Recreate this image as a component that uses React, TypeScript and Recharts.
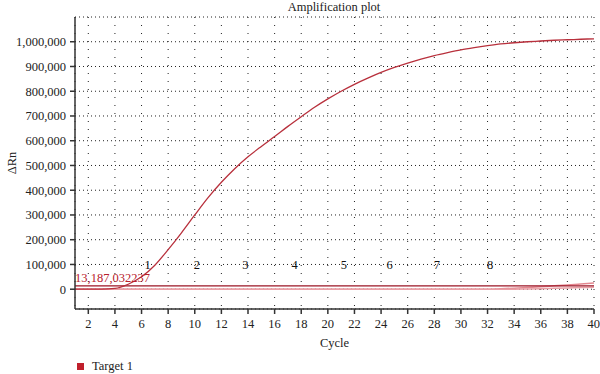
import {
  ComposedChart,
  Line,
  Scatter,
  XAxis,
  YAxis,
  CartesianGrid,
  ReferenceLine,
  LabelList,
  Legend,
} from "recharts";

// cycle numbers 1..40
const cycles = [
  1, 2, 3, 4, 5, 6, 7, 8, 9, 10, 11, 12, 13, 14, 15, 16, 17, 18, 19, 20,
  21, 22, 23, 24, 25, 26, 27, 28, 29, 30, 31, 32, 33, 34, 35, 36, 37, 38, 39, 40,
];

// Target 1, amplified well
const sampleMain = [
  0, 0, 0, 3000, 20000, 50000, 97000, 160000, 228000, 300000,
  370000, 432000, 487000, 535000, 577000, 617000, 658000, 697000, 735000, 769000,
  800000, 828000, 853000, 876000, 896000, 914000, 930000, 944000, 956000, 967000,
  976000, 984000, 991000, 996000, 1000000, 1003000, 1006000, 1008000, 1010000, 1012000,
];

// wells that stay near baseline, late drift
const sampleLateA = [
  0, 0, 0, 0, 0, 0, 0, 0, 0, 0,
  0, 0, 0, 0, 0, 0, 0, 0, 0, 0,
  0, 0, 0, 0, 0, 0, 0, 0, 0, 0,
  0, 0, 2000, 4000, 7000, 10000, 13500, 17000, 21000, 25000,
];
const sampleLateB = [
  0, 0, 0, 0, 0, 0, 0, 0, 0, 0,
  0, 0, 0, 0, 0, 0, 0, 0, 0, 0,
  0, 0, 0, 0, 0, 0, 0, 0, 0, 0,
  0, 0, 0, 0, 1000, 2000, 3500, 5000, 6500, 8000,
];

const threshold = 13187.032237;
const thresholdText = "13,187,032237";

// well markers drawn along the 100,000 line
const markerCycles = [6.45, 10.15, 13.8, 17.5, 21.2, 24.65, 28.2, 32.2];
const markerLabels = ["1", "2", "3", "4", "5", "6", "7", "8"];
const markerLevel = 100000;

const xTicks = [2, 4, 6, 8, 10, 12, 14, 16, 18, 20, 22, 24, 26, 28, 30, 32, 34, 36, 38, 40];
const yTicks = [0, 100000, 200000, 300000, 400000, 500000, 600000, 700000, 800000, 900000, 1000000];

const rows = cycles.map((cycle, i) => ({
  cycle,
  main: sampleMain[i],
  lateA: sampleLateA[i],
  lateB: sampleLateB[i],
}));

const markers = markerCycles.map((cycle, i) => ({
  cycle,
  level: markerLevel,
  label: markerLabels[i],
}));

const FONT = "'Liberation Serif', 'DejaVu Serif', serif";
const FS = 12.5;
const tickStyle = { fontSize: FS, fill: "#222", fontFamily: FONT };
const X_DOMAIN: [number, number] = [1, 40];
const Y_DOMAIN: [number, number] = [-80000, 1100000];

function LegendBox() {
  return (
    <div style={{ display: "flex", alignItems: "center", fontFamily: FONT, fontSize: FS, color: "#222" }}>
      <span style={{ width: 7, height: 7, background: "#c0202c", display: "inline-block", marginRight: 8 }} />
      <span>Target 1</span>
    </div>
  );
}

export default function App() {
  return (
    <div style={{ position: "absolute", left: 0, top: 0, width: 600, height: 374, background: "#fff" }}>
      <div
        style={{
          position: "absolute",
          left: 234,
          top: 0,
          width: 200,
          textAlign: "center",
          fontFamily: FONT,
          fontSize: FS,
          lineHeight: "14px",
          color: "#222",
        }}
      >
        Amplification plot
      </div>
      <ComposedChart
        width={600}
        height={374}
        data={rows}
        margin={{ top: 17, right: 6, left: 0, bottom: 27 }}
        style={{ fontFamily: FONT }}
      >
        <CartesianGrid horizontal={true} vertical={false} stroke="#222" strokeDasharray="1 3" />
        <CartesianGrid horizontal={false} vertical={true} stroke="#222" strokeDasharray="1 7" />
        <XAxis
          dataKey="cycle"
          type="number"
          domain={X_DOMAIN}
          ticks={xTicks}
          allowDataOverflow
          tick={tickStyle}
          tickSize={5}
          tickMargin={5}
          height={38}
          stroke="#333"
          strokeWidth={1.5}
          label={{ value: "Cycle", position: "insideBottom", offset: 0, fontSize: FS, fill: "#222" }}
        />
        <XAxis
          xAxisId="top"
          orientation="top"
          type="number"
          domain={X_DOMAIN}
          tick={false}
          tickLine={false}
          height={0}
          stroke="#555"
          strokeWidth={2}
        />
        <YAxis
          type="number"
          domain={Y_DOMAIN}
          ticks={yTicks}
          allowDataOverflow
          tick={tickStyle}
          tickSize={5}
          tickMargin={4}
          width={75}
          stroke="#333"
          strokeWidth={1.5}
          tickFormatter={(v: number) => v.toLocaleString("en-US")}
          label={{
            value: "ΔRn",
            angle: -90,
            position: "insideLeft",
            offset: 12,
            fontSize: FS,
            fill: "#222",
            style: { textAnchor: "middle" },
          }}
        />
        <YAxis
          yAxisId="right"
          orientation="right"
          type="number"
          domain={Y_DOMAIN}
          tick={false}
          tickLine={false}
          width={0}
          stroke="#333"
          strokeWidth={1.5}
        />
        <Line
          dataKey="lateA"
          type="monotone"
          stroke="#e48890"
          strokeWidth={1.5}
          dot={false}
          isAnimationActive={false}
        />
        <Line
          dataKey="lateB"
          type="monotone"
          stroke="#eaa0a6"
          strokeWidth={1.5}
          dot={false}
          isAnimationActive={false}
        />
        <ReferenceLine
          y={threshold}
          stroke="#9b1424"
          strokeWidth={1.3}
          label={{
            value: thresholdText,
            position: "insideBottomLeft",
            offset: 4,
            dx: -4,
            fontSize: FS,
            fill: "#b8202c",
          }}
        />
        <Line
          dataKey="main"
          type="monotone"
          stroke="#b8303c"
          strokeWidth={1.3}
          dot={false}
          isAnimationActive={false}
        />
        <Scatter
          data={markers}
          dataKey="level"
          fill="none"
          shape={() => <g />}
          isAnimationActive={false}
        >
          <LabelList dataKey="label" position="center" fontSize={FS} fill="#111" />
        </Scatter>
        <Legend
          layout="horizontal"
          verticalAlign="middle"
          align="center"
          content={() => <LegendBox />}
          wrapperStyle={{ left: 77, top: 359, width: 120, height: 16 }}
        />
      </ComposedChart>
    </div>
  );
}
